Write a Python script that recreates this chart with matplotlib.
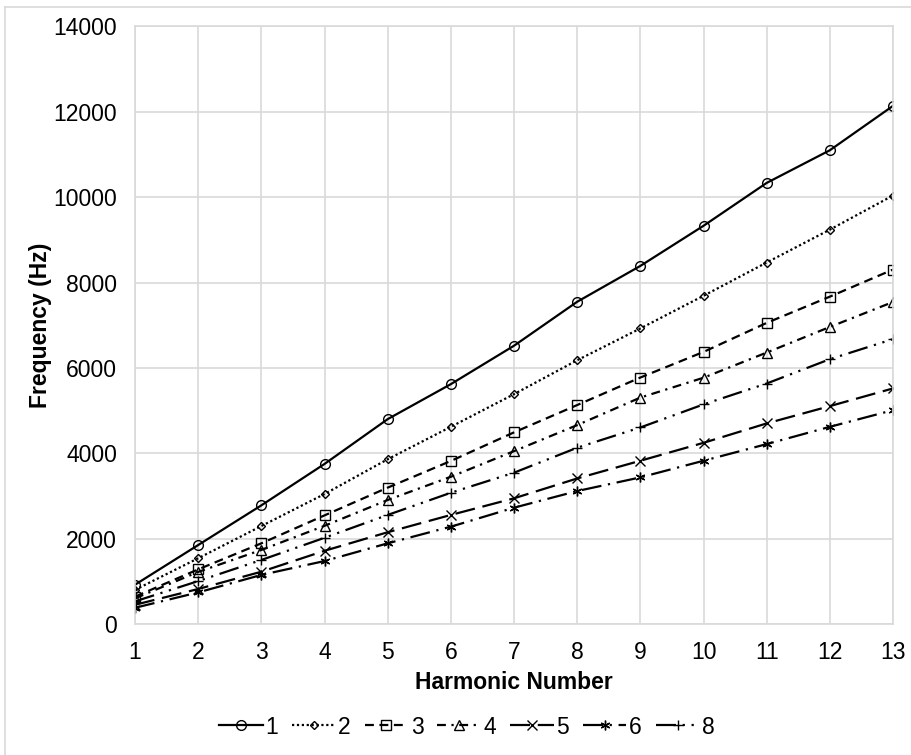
import matplotlib.pyplot as plt
from matplotlib.lines import Line2D

plt.rcParams['font.family'] = ['Liberation Sans', 'DejaVu Sans']

# harmonic number on x
harmonics = list(range(1, 14))

# frequency (Hz) per series
s1 = [920, 1850, 2780, 3750, 4800, 5620, 6520, 7550, 8390, 9330, 10335, 11100, 12140]
s2 = [800, 1540, 2295, 3045, 3860, 4620, 5385, 6180, 6925, 7690, 8470, 9240, 10040]
s3 = [640, 1280, 1890, 2545, 3195, 3820, 4490, 5130, 5775, 6375, 7055, 7670, 8305]
s4 = [600, 1220, 1735, 2300, 2905, 3450, 4050, 4660, 5305, 5770, 6360, 6960, 7545]
s5 = [450, 820, 1225, 1715, 2150, 2555, 2945, 3410, 3825, 4245, 4700, 5105, 5520]
s6 = [380, 740, 1150, 1475, 1890, 2280, 2725, 3115, 3435, 3825, 4215, 4620, 5010]
s8 = [530, 1005, 1500, 2020, 2555, 3075, 3545, 4130, 4605, 5145, 5635, 6205, 6675]

labels = ['1', '2', '3', '4', '5', '6', '8']
series = [s1, s2, s3, s4, s5, s6, s8]

styles = [
    dict(ls='-', marker='o', ms=7),
    dict(ls=(0, (1, 1.2)), marker='D', ms=4.5),
    dict(ls=(0, (4, 2.5)), marker='s', ms=6.5),
    dict(ls=(0, (4, 2.5, 1, 2.5)), marker='^', ms=6.5),
    dict(ls=(0, (9, 3.5)), marker='x', ms=6.5),
    dict(ls=(0, (9, 3, 1, 3)), marker=(6, 2, 0), ms=7),
    dict(ls=(0, (9, 3, 1, 3, 1, 3)), marker='+', ms=7),
]

fs = 16.5
fig = plt.figure(figsize=(9.11, 7.55), dpi=100)
W, H = 911, 755
ax = fig.add_axes([135 / W, 1 - 624 / H, (893 - 135) / W, (624 - 26.5) / H])

grid_c = '#d9d9d9'
handles = []
for y, lab, st in zip(series, labels, styles):
    line, = ax.plot(harmonics, y, color='black', lw=1.6, linestyle=st['ls'],
                    marker=st['marker'], markersize=st['ms'],
                    markerfacecolor='none', markeredgecolor='black',
                    markeredgewidth=1.0, label=lab)
    handles.append(line)

ax.set_xlim(1, 13)
ax.set_ylim(0, 14000)
ax.set_xticks(harmonics)
ax.set_yticks(range(0, 14001, 2000))
ax.grid(True, color=grid_c, lw=1.2)
ax.set_axisbelow(True)
for sp in ax.spines.values():
    sp.set_color(grid_c)
    sp.set_linewidth(1.2)
ax.tick_params(length=0, labelsize=fs, pad=12)
ax.tick_params(axis='y', pad=13)

ax.set_xlabel('Harmonic Number', fontsize=fs, fontweight='bold', labelpad=5)
ax.set_ylabel('Frequency (Hz)', fontsize=fs, fontweight='bold', labelpad=1)

fig.legend(handles=handles, labels=labels, loc='center', ncol=7,
           bbox_to_anchor=(467 / W, 1 - 727 / H), frameon=False,
           fontsize=fs, handlelength=1.9, handletextpad=0.12,
           columnspacing=0.6)

# light border on top and left of the chart area
fig.add_artist(Line2D([5 / W, 1], [1 - 7 / H, 1 - 7 / H], color=grid_c, lw=1.2))
fig.add_artist(Line2D([5 / W, 5 / W], [0, 1 - 7 / H], color=grid_c, lw=1.2))

fig.savefig('out.png', dpi=100)
